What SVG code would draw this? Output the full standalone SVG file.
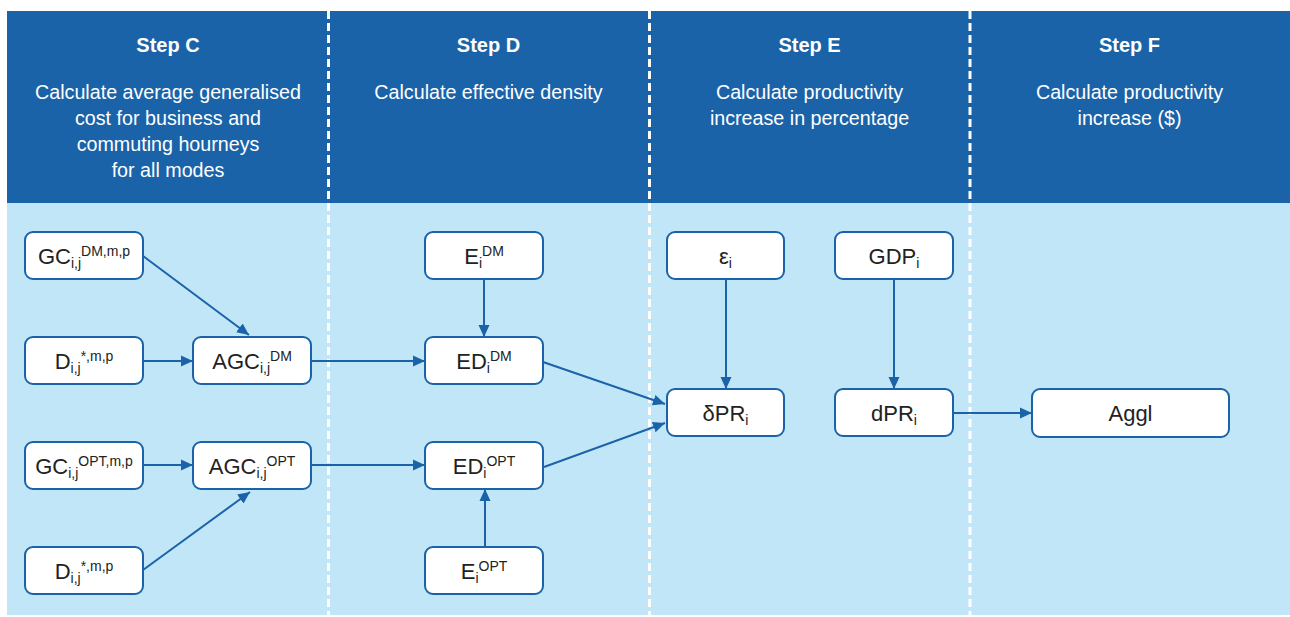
<svg xmlns="http://www.w3.org/2000/svg" width="1290" height="617" viewBox="0 0 1290 617">
<defs>
<style>
.hdr{fill:#1a63a8}
.body{fill:#c1e6f7}
.div{stroke:#ffffff;stroke-width:3;stroke-dasharray:8 4;fill:none}
.step{font-family:"Liberation Sans",Arial,sans-serif;font-weight:bold;font-size:20px;fill:#ffffff;text-anchor:middle}
.desc{font-family:"Liberation Sans",Arial,sans-serif;font-size:19.7px;fill:#ffffff;text-anchor:middle}
.box{fill:#ffffff;stroke:#1a63a8;stroke-width:2}
.lbl{font-family:"Liberation Sans",Arial,sans-serif;font-size:22px;fill:#222222;text-anchor:middle}
.s{font-size:14px}
.con{stroke:#1a63a8;stroke-width:2;fill:none;marker-end:url(#ah)}
</style>
<marker id="ah" markerUnits="userSpaceOnUse" markerWidth="14" markerHeight="14" viewBox="0 0 14 14" refX="12" refY="7" orient="auto">
<path d="M0,1.5 L12,7 L0,12.5 z" fill="#1a63a8"/>
</marker>
</defs>
<rect x="7" y="11" width="1283" height="192" class="hdr"/>
<rect x="7" y="203" width="1283" height="412" class="body"/>
<g id="dividers">
<line x1="328.5" y1="11" x2="328.5" y2="615" class="div"/>
<line x1="649.5" y1="11" x2="649.5" y2="615" class="div"/>
<line x1="970" y1="11" x2="970" y2="615" class="div"/>
</g>
<g id="headers">
<text x="168" y="52" class="step">Step C</text>
<text x="168" y="99" class="desc">Calculate average generalised</text>
<text x="168" y="125" class="desc">cost for business and</text>
<text x="168" y="151" class="desc">commuting hourneys</text>
<text x="168" y="177" class="desc">for all modes</text>
<text x="488.5" y="52" class="step">Step D</text>
<text x="488.5" y="99" class="desc">Calculate effective density</text>
<text x="809.5" y="52" class="step">Step E</text>
<text x="809.5" y="99" class="desc">Calculate productivity</text>
<text x="809.5" y="125" class="desc">increase in percentage</text>
<text x="1129.5" y="52" class="step">Step F</text>
<text x="1129.5" y="99" class="desc">Calculate productivity</text>
<text x="1129.5" y="125" class="desc">increase ($)</text>
</g>
<g id="connectors">
<line x1="143" y1="256" x2="249" y2="335" class="con"/>
<line x1="143" y1="361" x2="193" y2="361" class="con"/>
<line x1="311" y1="361" x2="425" y2="361" class="con"/>
<line x1="484" y1="279" x2="484" y2="337" class="con"/>
<line x1="543" y1="362" x2="665" y2="404" class="con"/>
<line x1="143" y1="465" x2="193" y2="465" class="con"/>
<line x1="311" y1="465" x2="425" y2="465" class="con"/>
<line x1="143" y1="570" x2="250" y2="492" class="con"/>
<line x1="485" y1="547" x2="485" y2="489" class="con"/>
<line x1="544" y1="467" x2="665" y2="423" class="con"/>
<line x1="726" y1="279" x2="726" y2="389" class="con"/>
<line x1="894" y1="279" x2="894" y2="389" class="con"/>
<line x1="953" y1="413" x2="1032" y2="413" class="con"/>
</g>
<g id="node-gc-dm">
<rect x="25" y="232" width="118" height="47" rx="8" class="box"/>
<text x="84" y="264" class="lbl">GC<tspan class="s" dy="4">i,j</tspan><tspan class="s" dy="-12.5">DM,m,p</tspan></text>
</g>
<g id="node-d-dm">
<rect x="25" y="337" width="118" height="47" rx="8" class="box"/>
<text x="84" y="369" class="lbl">D<tspan class="s" dy="4">i,j</tspan><tspan class="s" dy="-12.5">*,m,p</tspan></text>
</g>
<g id="node-agc-dm">
<rect x="193" y="337" width="118" height="47" rx="8" class="box"/>
<text x="252" y="369" class="lbl">AGC<tspan class="s" dy="4">i,j</tspan><tspan class="s" dy="-12.5">DM</tspan></text>
</g>
<g id="node-gc-opt">
<rect x="25" y="442" width="118" height="47" rx="8" class="box"/>
<text x="84" y="474" class="lbl">GC<tspan class="s" dy="4">i,j</tspan><tspan class="s" dy="-12.5">OPT,m,p</tspan></text>
</g>
<g id="node-agc-opt">
<rect x="193" y="442" width="118" height="47" rx="8" class="box"/>
<text x="252" y="474" class="lbl">AGC<tspan class="s" dy="4">i,j</tspan><tspan class="s" dy="-12.5">OPT</tspan></text>
</g>
<g id="node-d-opt">
<rect x="25" y="547" width="118" height="47" rx="8" class="box"/>
<text x="84" y="579" class="lbl">D<tspan class="s" dy="4">i,j</tspan><tspan class="s" dy="-12.5">*,m,p</tspan></text>
</g>
<g id="node-e-dm">
<rect x="425" y="232" width="118" height="47" rx="8" class="box"/>
<text x="484" y="264" class="lbl">E<tspan class="s" dy="4">i</tspan><tspan class="s" dy="-12.5">DM</tspan></text>
</g>
<g id="node-ed-dm">
<rect x="425" y="337" width="118" height="47" rx="8" class="box"/>
<text x="484" y="369" class="lbl">ED<tspan class="s" dy="4">i</tspan><tspan class="s" dy="-12.5">DM</tspan></text>
</g>
<g id="node-ed-opt">
<rect x="425" y="442" width="118" height="47" rx="8" class="box"/>
<text x="484" y="474" class="lbl">ED<tspan class="s" dy="4">i</tspan><tspan class="s" dy="-12.5">OPT</tspan></text>
</g>
<g id="node-e-opt">
<rect x="425" y="547" width="118" height="47" rx="8" class="box"/>
<text x="484" y="579" class="lbl">E<tspan class="s" dy="4">i</tspan><tspan class="s" dy="-12.5">OPT</tspan></text>
</g>
<g id="node-epsilon">
<rect x="667" y="232" width="117" height="47" rx="8" class="box"/>
<text x="725.5" y="264" class="lbl">ε<tspan class="s" dy="4">i</tspan></text>
</g>
<g id="node-gdp">
<rect x="835" y="232" width="118" height="47" rx="8" class="box"/>
<text x="894" y="264" class="lbl">GDP<tspan class="s" dy="4">i</tspan></text>
</g>
<g id="node-dpr-delta">
<rect x="667" y="389" width="117" height="47" rx="8" class="box"/>
<text x="725.5" y="421" class="lbl">δPR<tspan class="s" dy="4">i</tspan></text>
</g>
<g id="node-dpr">
<rect x="835" y="389" width="118" height="47" rx="8" class="box"/>
<text x="894" y="421" class="lbl">dPR<tspan class="s" dy="4">i</tspan></text>
</g>
<g id="node-aggl">
<rect x="1032" y="389" width="197" height="48" rx="8" class="box"/>
<text x="1130.5" y="421" class="lbl">Aggl</text>
</g>
</svg>
